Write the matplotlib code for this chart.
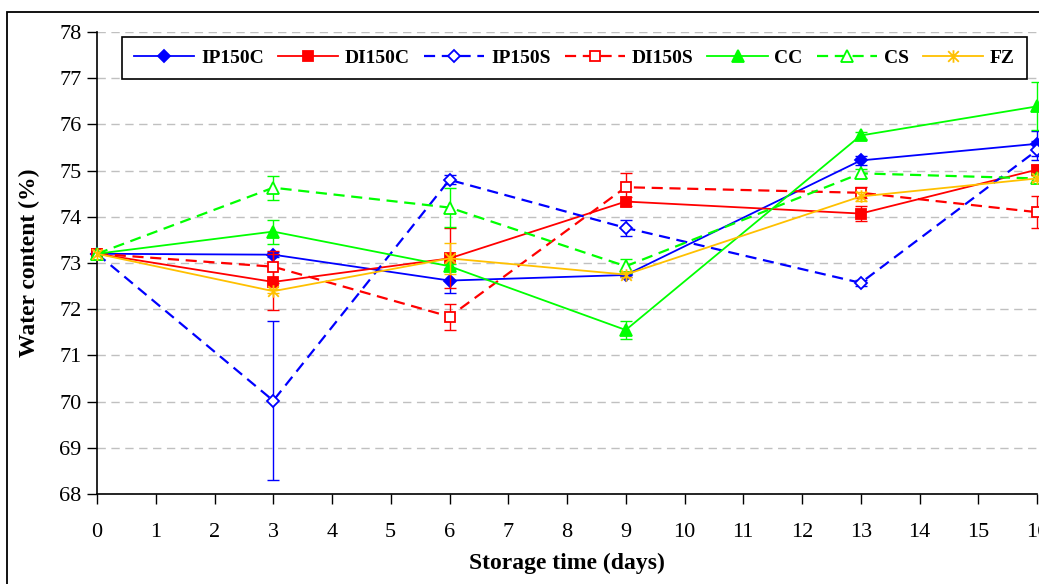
import matplotlib
matplotlib.use("Agg")
import matplotlib.pyplot as plt
from matplotlib.path import Path
from matplotlib.patches import Rectangle

# ---- data ----
days = [0, 3, 6, 9, 13, 16]
series_names = ["IP150C", "DI150C", "IP150S", "DI150S", "CC", "CS", "FZ"]
ip150c = [73.2, 73.18, 72.62, 72.74, 75.22, 75.58]
ip150c_err = [0, 0.05, 0.28, 0.05, 0.10, 0.27]
di150c = [73.2, 72.59, 73.10, 74.33, 74.07, 75.02]
di150c_err = [0, 0.60, 0.65, 0.10, 0.16, 0.10]
ip150s = [73.2, 70.02, 74.80, 73.76, 72.57, 75.44]
ip150s_err = [0, 1.72, 0.10, 0.17, 0.07, 0.20]
di150s = [73.2, 72.92, 71.84, 74.64, 74.52, 74.10]
di150s_err = [0, 0.35, 0.28, 0.30, 0.12, 0.35]
cc = [73.2, 73.68, 72.93, 71.55, 75.76, 76.39]
cc_err = [0, 0.26, 0.05, 0.20, 0.08, 0.52]
cs = [73.2, 74.63, 74.20, 72.93, 74.94, 74.83]
cs_err = [0, 0.26, 0.42, 0.15, 0.10, 0.10]
fz = [73.2, 72.39, 73.10, 72.75, 74.44, 74.83]
fz_err = [0, 0.05, 0.33, 0.05, 0.10, 0.05]
x_ticks = list(range(0, 17))
y_ticks = list(range(68, 79))

plt.rcParams['font.family'] = ['Liberation Serif', 'DejaVu Serif']

W, H = 1039, 584
fig = plt.figure(figsize=(W / 100, H / 100), dpi=100)
ax = fig.add_axes([97 / W, 1 - 494 / H, (1037 - 97) / W, (494 - 32) / H])

star = Path([(0, -1), (0, 1), (-0.85, -0.85), (0.85, 0.85), (-0.85, 0.85), (0.85, -0.85)],
            [Path.MOVETO, Path.LINETO, Path.MOVETO, Path.LINETO, Path.MOVETO, Path.LINETO])

blue, red, green, gold = "#0000FF", "#FF0000", "#00FF00", "#FFC000"
dash = (0, (5, 3))
specs = [
    (ip150c, ip150c_err, blue, "-", "D", blue, 6.5, 1.3),
    (di150c, di150c_err, red, "-", "s", red, 7, 1.3),
    (ip150s, ip150s_err, blue, dash, "D", "white", 6.5, 1.6),
    (di150s, di150s_err, red, dash, "s", "white", 7.5, 1.6),
    (cc, cc_err, green, "-", "^", green, 8, 1.3),
    (cs, cs_err, green, dash, "^", "white", 8, 1.6),
    (fz, fz_err, gold, "-", star, gold, 9, 1.3),
]
for i, (vals, err, col, ls, mk, mfc, ms, lw) in enumerate(specs):
    idx = [k for k in range(len(days)) if err[k] > 0]
    ex = [days[k] for k in idx]
    ey = [vals[k] for k in idx]
    ee = [err[k] for k in idx]
    eb = ax.errorbar(ex, ey, yerr=ee, fmt='none', ecolor=col, elinewidth=1.0,
                     capsize=4.5, capthick=1.0, zorder=3 + i)
    for c in eb.lines[2]:
        c.set_clip_on(False)
    for c in eb.lines[1]:
        c.set_clip_on(False)
    ax.plot(days, vals, color=col, linestyle=ls, linewidth=lw,
            marker=mk, markersize=ms, markerfacecolor=mfc,
            markeredgecolor=col, markeredgewidth=1.3,
            label=series_names[i], zorder=3.5 + i, clip_on=False)

ax.set_xlim(0, 16)
ax.set_ylim(68, 78)
ax.set_xticks(x_ticks)
ax.set_yticks(y_ticks)
ax.tick_params(axis='both', direction='out', length=7, width=1, labelsize=16, colors='black')
ax.tick_params(axis='x', pad=14)
ax.tick_params(axis='y', pad=4)
for s in ['top', 'right']:
    ax.spines[s].set_visible(False)
for s in ['left', 'bottom']:
    ax.spines[s].set_linewidth(1.2)
ax.yaxis.grid(True, color="#C0C0C0", linestyle=(0, (6, 4)), linewidth=1)
ax.set_axisbelow(True)
ax.set_xlabel("Storage time (days)", fontsize=17, fontweight='bold', labelpad=8)
ax.set_ylabel("Water content (%)", fontsize=17, fontweight='bold', labelpad=14)

leg = ax.legend(ncol=7, loc='upper left', bbox_to_anchor=(25 / 940, 1 - 5 / 462),
                prop={'weight': 'bold', 'size': 14}, frameon=True, fancybox=False,
                edgecolor='black', framealpha=1, handlelength=3.1, handletextpad=0.35,
                columnspacing=0.72, borderpad=0.62, borderaxespad=0)
leg.get_frame().set_linewidth(1.2)
leg.set_zorder(20)

# outer chart frame (partially visible)
fig.add_artist(Rectangle((7 / W, -0.2), 1.2, (1 - 12 / H) + 0.2, transform=fig.transFigure,
                         fill=False, edgecolor='black', linewidth=1.3, clip_on=False))

fig.savefig("out.png", dpi=100)
